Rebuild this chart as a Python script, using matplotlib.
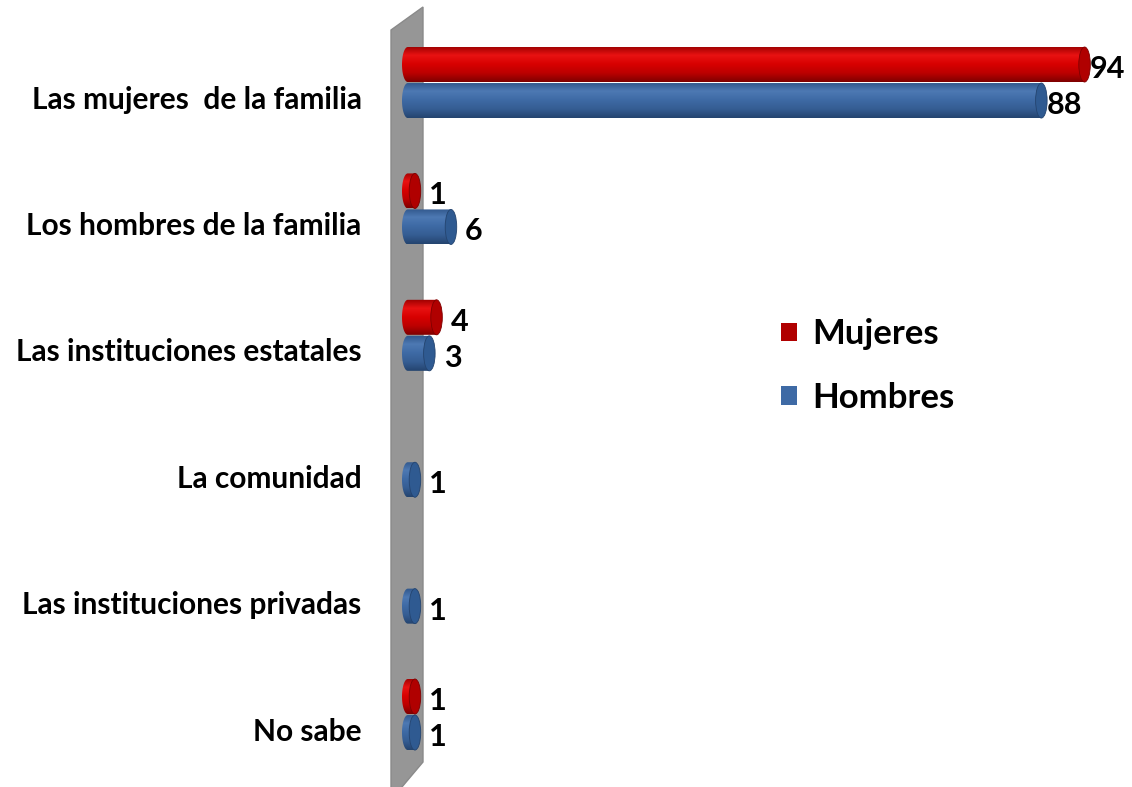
import numpy as np
import matplotlib
matplotlib.use('Agg')
import matplotlib.pyplot as plt
from matplotlib.patches import Polygon, Ellipse, Patch
from matplotlib.colors import LinearSegmentedColormap

plt.rcParams['font.family'] = ['Lato', 'DejaVu Sans']
plt.rcParams['font.weight'] = 'bold'

categorias = ['Las mujeres  de la familia', 'Los hombres de la familia',
              'Las instituciones estatales', 'La comunidad',
              'Las instituciones privadas', 'No sabe']
mujeres = [94, 1, 4, 0, 0, 1]
hombres = [88, 6, 3, 1, 1, 1]
series = ['Mujeres', 'Hombres']

W, H = 1132, 787
px_x = 7.2      # pixels per unit value
px_y = 126.4    # pixels per category
x0_px, y0_px = 402, 97

rojo = ['#9a0000', '#e81212', '#d80000', '#bc0000', '#7e0000']
azul = ['#2f5589', '#4d79b3', '#3e6aa5', '#355d93', '#24446f']
cap_col = {'Mujeres': '#b00000', 'Hombres': '#2f5a91'}
bar_col = {'Mujeres': rojo, 'Hombres': azul}
offset = {'Mujeres': -0.257, 'Hombres': 0.028}
bar_h = 0.277
cap_a = 0.8     # half width of the end ellipse, in value units

fig = plt.figure(figsize=(W / 100, H / 100), dpi=100, facecolor='white')
ax = fig.add_axes([x0_px / W, 0, (W - x0_px) / W, 1])
xmax = (W - x0_px) / px_x
ylim = ((H - y0_px) / px_y, -y0_px / px_y)

# grey wall behind the bars
wx = np.array([391, 423, 423, 391]); wy = np.array([30, 7, 762, 800])
wall = Polygon(np.c_[(wx - x0_px) / px_x, (wy - y0_px) / px_y],
               closed=True, facecolor='#969696', edgecolor='#8a8a8a',
               lw=1, clip_on=False, zorder=1)
ax.add_patch(wall)

grad = np.linspace(0, 1, 200).reshape(-1, 1)


def cylinder(v, c, name):
    top, bot = c - bar_h / 2, c + bar_h / 2
    cmap = LinearSegmentedColormap.from_list(name, bar_col[name])
    t = np.linspace(np.pi / 2, 3 * np.pi / 2, 40)
    left = np.c_[cap_a + cap_a * np.cos(t), c - (bar_h / 2) * np.sin(t)]
    pts = np.vstack([left, [[cap_a + v, bot], [cap_a + v, top]]])
    body = Polygon(pts, closed=True, facecolor='none', edgecolor='none')
    ax.add_patch(body)
    im = ax.imshow(grad, cmap=cmap, aspect='auto', origin='upper',
                   extent=(0, cap_a + v, bot, top), zorder=3)
    im.set_clip_path(body)
    cap = Ellipse((cap_a + v, c), 2 * cap_a, bar_h, facecolor=cap_col[name],
                  edgecolor=bar_col[name][4], lw=0.6, zorder=4)
    ax.add_patch(cap)
    ax.text(v + 2 * cap_a + 2.4, c + 0.035, f'{v}', ha='center', va='center',
            fontsize=22, fontweight='bold', color='black', zorder=5)


for name, vals in zip(series, [mujeres, hombres]):
    for i, v in enumerate(vals):
        if v > 0:
            cylinder(v, i + offset[name], name)

ax.set_xlim(0, xmax)
ax.set_ylim(*ylim)
ax.set_yticks(range(len(categorias)))
ax.set_yticklabels(categorias, fontsize=21.5, fontweight='bold')
ax.tick_params(axis='y', length=0, pad=29)
ax.set_xticks([])
for s in ax.spines.values():
    s.set_visible(False)
ax.patch.set_alpha(0)

handles = [Patch(facecolor=cap_col['Mujeres'], edgecolor='none'),
           Patch(facecolor='#3e6aa5', edgecolor='none')]
fig.legend(handles, series, loc='center left',
           bbox_to_anchor=(781 / W, 1 - 366 / H), frameon=False,
           handlelength=0.46, handleheight=0.46,
           handletextpad=0.43, labelspacing=0.9, borderpad=0,
           borderaxespad=0, prop={'weight': 'bold', 'size': 25})

fig.savefig('out.png', dpi=100)
